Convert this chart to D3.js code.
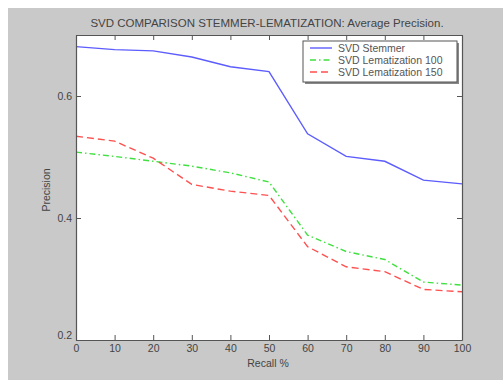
<!DOCTYPE html>
<html><head><meta charset="utf-8">
<script src="https://cdn.jsdelivr.net/npm/d3@7"></script>
<style>body{margin:0;background:#fff;} svg{display:block;}</style>
</head><body>
<script>
const recall = [0,10,20,30,40,50,60,70,80,90,100];
const stemmer = [0.681,0.676,0.674,0.664,0.648,0.640,0.538,0.501,0.493,0.462,0.456];
const lemat100 = [0.508,0.501,0.493,0.485,0.474,0.459,0.372,0.345,0.332,0.295,0.290];
const lemat150 = [0.534,0.526,0.498,0.455,0.444,0.437,0.353,0.320,0.312,0.283,0.279];
const xTicks = [0,10,20,30,40,50,60,70,80,90,100];
const yTicks = [0.2,0.4,0.6];
const seriesNames = ["SVD Stemmer","SVD Lematization 100","SVD Lematization 150"];
const title = "SVD COMPARISON STEMMER-LEMATIZATION: Average Precision.";

const W=503,H=380;
const L=76,R=462,T=35,B=340;
const svg=d3.select("body").append("svg").attr("width",W).attr("height",H);
svg.append("rect").attr("x",0).attr("y",0).attr("width",W).attr("height",H).attr("fill","#fff");
svg.append("rect").attr("x",8).attr("y",8).attr("width",W-8).attr("height",H-8).attr("fill","#c9c9c9");
svg.append("rect").attr("x",L).attr("y",T).attr("width",R-L).attr("height",B-T).attr("fill","#fff");

const x=d3.scaleLinear().domain([0,100]).range([L,R]);
const y=d3.scaleLinear().domain([0.2,0.7]).range([B,T]);
const font="'Liberation Sans', Arial, sans-serif";
const tc="#444";

const series=[
 {name:seriesNames[0],vals:stemmer,color:"#5c5cff",dash:null},
 {name:seriesNames[1],vals:lemat100,color:"#40e040",dash:"6,3,1.5,3"},
 {name:seriesNames[2],vals:lemat150,color:"#ff5050",dash:"7,4"}
];
const line=d3.line().x(d=>x(d[0])).y(d=>y(d[1]));
series.forEach(s=>{
  svg.append("path").datum(recall.map((r,i)=>[r,s.vals[i]]))
    .attr("d",line).attr("fill","none").attr("stroke",s.color).attr("stroke-width",1.4)
    .attr("stroke-dasharray",s.dash);
});

// axes (inward ticks, mirrored)
const tl=-5;
const gb=svg.append("g").attr("transform",`translate(0,${B})`).call(d3.axisBottom(x).tickValues(xTicks).tickSizeInner(tl).tickSizeOuter(0).tickPadding(5));
const gt=svg.append("g").attr("transform",`translate(0,${T})`).call(d3.axisTop(x).tickValues(xTicks).tickSizeInner(tl).tickSizeOuter(0).tickFormat(""));
const gl=svg.append("g").attr("transform",`translate(${L},0)`).call(d3.axisLeft(y).tickValues(yTicks).tickSizeInner(tl).tickSizeOuter(0).tickPadding(4).tickFormat(d3.format(".1f")));
const gr=svg.append("g").attr("transform",`translate(${R},0)`).call(d3.axisRight(y).tickValues(yTicks).tickSizeInner(tl).tickSizeOuter(0).tickFormat(""));
[gb,gt,gl,gr].forEach(g=>{
  g.selectAll("path").attr("stroke","#555").attr("stroke-width",1.2);
  g.selectAll("line").attr("stroke","#555");
  g.selectAll("text").attr("font-family",font).attr("font-size",10.5).attr("fill",tc);
});
gl.selectAll(".tick").filter(d=>d===0.2).select("text").attr("dy","-0.1em");

svg.append("text").attr("x",267).attr("y",27).attr("text-anchor","middle")
  .attr("font-family",font).attr("font-size",11.5).attr("fill",tc).text(title);
svg.append("text").attr("x",268).attr("y",367).attr("text-anchor","middle")
  .attr("font-family",font).attr("font-size",10.5).attr("fill",tc).text("Recall %");
svg.append("text").attr("transform","translate(50,190) rotate(-90)").attr("text-anchor","middle")
  .attr("font-family",font).attr("font-size",10.5).attr("fill",tc).text("Precision");

// legend
const lg=svg.append("g");
lg.append("rect").attr("x",305).attr("y",43).attr("width",154).attr("height",41).attr("fill","#888");
lg.append("rect").attr("x",303).attr("y",41).attr("width",154).attr("height",41).attr("fill","#fff").attr("stroke","#555").attr("stroke-width",1);
series.forEach((s,i)=>{
  const yy=48+i*12;
  lg.append("line").attr("x1",310).attr("x2",332).attr("y1",yy).attr("y2",yy)
    .attr("stroke",s.color).attr("stroke-width",1.4).attr("stroke-dasharray",s.dash);
  lg.append("text").attr("x",338).attr("y",yy+3.5).attr("font-family",font).attr("font-size",10.5)
    .attr("fill","#555").text(s.name);
});
</script>
</body></html>
